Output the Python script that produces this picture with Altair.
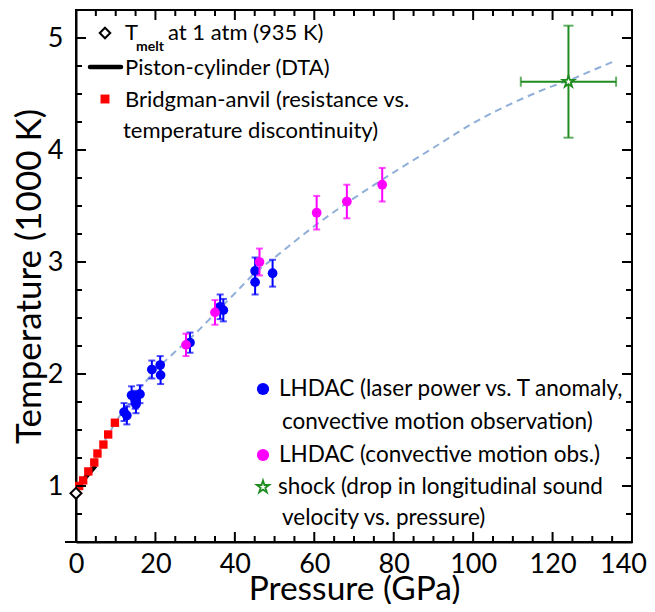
import altair as alt
import pandas as pd

W, H = 556, 532
FONT = "Lato"

# ---------------- data ----------------
melt_P = [0.0]
melt_T = [0.935]

piston_P = [0.3, 4.9]
piston_T = [0.99, 1.18]

bridg_P = [0.8, 1.8, 3.1, 4.6, 5.4, 6.9, 8.1, 9.8]
bridg_T = [1.00, 1.05, 1.13, 1.21, 1.29, 1.37, 1.46, 1.565]

blue_P = [12.1, 12.8, 14.0, 14.9, 15.1, 16.1, 19.1, 21.2, 21.3, 28.7, 36.3, 37.1, 45.1, 45.1, 49.5]
blue_T = [1.66, 1.63, 1.81, 1.77, 1.73, 1.82, 2.04, 2.08, 1.99, 2.28, 2.60, 2.57, 2.92, 2.82, 2.90]
blue_err = [0.08, 0.08, 0.08, 0.08, 0.08, 0.08, 0.08, 0.08, 0.08, 0.09, 0.11, 0.10, 0.12, 0.11, 0.12]

mag_P = [27.7, 35.0, 46.2, 60.6, 68.2, 77.1]
mag_T = [2.26, 2.55, 3.00, 3.44, 3.54, 3.69]
mag_err = [0.10, 0.11, 0.12, 0.15, 0.15, 0.15]

shock_P = [124.0]
shock_T = [4.61]
shock_Perr = [12.0]
shock_Terr = [0.50]

fit_P = [0, 2, 4, 6, 8, 10, 15, 20, 25, 30, 35, 40, 45, 50, 60, 70, 80, 90, 100, 110, 120, 124, 130, 136]
fit_T = [0.935, 1.06, 1.18, 1.32, 1.45, 1.57, 1.82, 2.03, 2.20, 2.36, 2.54, 2.72, 2.90, 3.04,
         3.32, 3.57, 3.80, 4.02, 4.24, 4.42, 4.57, 4.62, 4.71, 4.80]

x_major = [0, 20, 40, 60, 80, 100, 120, 140]
x_minor = [v for v in range(5, 140, 5) if v % 20 != 0]
y_major = [1, 2, 3, 4, 5]
y_minor = [0.75, 1.25, 1.5, 1.75, 2.25, 2.5, 2.75, 3.25, 3.5, 3.75, 4.25, 4.5, 4.75]

# ---------------- scales / axes ----------------
xscale = alt.Scale(domain=[0, 140], nice=False, zero=False)
yscale = alt.Scale(domain=[0.5, 5.25], nice=False, zero=False)
xaxis = alt.Axis(title="Pressure (GPa)", values=x_major, format="d", ticks=False, grid=False,
                 domainColor="black", domainWidth=2, labelFont=FONT, labelFontSize=27,
                 labelColor="black", labelPadding=9, labelFlush=False, labelOverlap=False,
                 labelOffset={"condition": {"test": "datum.value == 140", "value": -9}, "value": 0},
                 titleFont=FONT, titleFontSize=33.5, titleY=57, titleBaseline="alphabetic",
                 titleFontWeight="normal", titleColor="black")
yaxis = alt.Axis(title="Temperature (1000 K)", values=y_major, format="d", ticks=False, grid=False,
                 domainColor="black", domainWidth=2, labelFont=FONT, labelFontSize=27,
                 labelColor="black", labelPadding=13, labelFlush=False, labelOverlap=False,
                 titleFont=FONT, titleFontSize=35,
                 titleFontWeight="normal", titleColor="black", titlePadding=0)


def X(f="P"):
    return alt.X(f"{f}:Q", scale=xscale, axis=xaxis)


def Y(f="T"):
    return alt.Y(f"{f}:Q", scale=yscale, axis=yaxis)


fit_df = pd.DataFrame({"P": fit_P, "T": fit_T})
piston_df = pd.DataFrame({"P": piston_P, "T": piston_T})
bridg_df = pd.DataFrame({"P": bridg_P, "T": bridg_T})
blue_df = pd.DataFrame({"P": blue_P, "T": blue_T, "err": blue_err})
blue_df["lo"] = blue_df["T"] - blue_df["err"]
blue_df["hi"] = blue_df["T"] + blue_df["err"]
mag_df = pd.DataFrame({"P": mag_P, "T": mag_T, "err": mag_err})
mag_df["lo"] = mag_df["T"] - mag_df["err"]
mag_df["hi"] = mag_df["T"] + mag_df["err"]
shock_df = pd.DataFrame({"P": shock_P, "T": shock_T, "pe": shock_Perr, "te": shock_Terr})
shock_df["plo"] = shock_df["P"] - shock_df["pe"]
shock_df["phi"] = shock_df["P"] + shock_df["pe"]
shock_df["tlo"] = shock_df["T"] - shock_df["te"]
shock_df["thi"] = shock_df["T"] + shock_df["te"]
melt_df = pd.DataFrame({"P": melt_P, "T": melt_T})

STAR = "M0,-1L0.2245,-0.309L0.951,-0.309L0.363,0.118L0.588,0.809L0,0.382L-0.588,0.809L-0.363,0.118L-0.951,-0.309L-0.2245,-0.309Z"

BLUE = "#0000ff"
MAG = "#ff00ff"
RED = "#ff0000"
GREEN = "#1f8c1f"

fit = alt.Chart(fit_df).mark_line(color="#8fafd9", strokeWidth=2, strokeDash=[7, 5],
                                  interpolate="monotone").encode(x=X(), y=Y())
piston = alt.Chart(piston_df).mark_line(color="black", strokeWidth=4.5, strokeCap="butt").encode(x=X(), y=Y())
bridg = alt.Chart(bridg_df).mark_square(color=RED, size=70, opacity=1).encode(x=X(), y=Y())


def errlayers(df, color):
    bar = alt.Chart(df).mark_rule(color=color, strokeWidth=2).encode(x=X(), y=Y("lo"), y2="hi:Q")
    cap1 = alt.Chart(df).mark_tick(color=color, orient="horizontal", size=7, thickness=2).encode(x=X(), y=Y("lo"))
    cap2 = alt.Chart(df).mark_tick(color=color, orient="horizontal", size=7, thickness=2).encode(x=X(), y=Y("hi"))
    pts = alt.Chart(df).mark_circle(color=color, size=95, opacity=1).encode(x=X(), y=Y())
    return [bar, cap1, cap2, pts]


blue_layers = errlayers(blue_df, BLUE)
mag_layers = errlayers(mag_df, MAG)

sh_v = alt.Chart(shock_df).mark_rule(color=GREEN, strokeWidth=2).encode(x=X(), y=Y("tlo"), y2="thi:Q")
sh_h = alt.Chart(shock_df).mark_rule(color=GREEN, strokeWidth=2).encode(x=X("plo"), x2="phi:Q", y=Y())
sh_c1 = alt.Chart(shock_df).mark_tick(color=GREEN, orient="horizontal", size=10, thickness=2).encode(x=X(), y=Y("tlo"))
sh_c2 = alt.Chart(shock_df).mark_tick(color=GREEN, orient="horizontal", size=10, thickness=2).encode(x=X(), y=Y("thi"))
sh_c3 = alt.Chart(shock_df).mark_tick(color=GREEN, orient="vertical", size=10, thickness=2).encode(x=X("plo"), y=Y())
sh_c4 = alt.Chart(shock_df).mark_tick(color=GREEN, orient="vertical", size=10, thickness=2).encode(x=X("phi"), y=Y())
sh_pt = alt.Chart(shock_df).mark_point(shape=STAR, size=150, filled=True, fill="white", stroke=GREEN,
                                       strokeWidth=1.8, opacity=1).encode(x=X(), y=Y())

melt = alt.Chart(melt_df).mark_point(shape="diamond", size=120, filled=True, fill="white", stroke="black",
                                     strokeWidth=2, opacity=1).encode(x=X(), y=Y())


# ---------------- inward ticks on all four sides ----------------
def xticks(vals, ln):
    d = pd.DataFrame({"P": vals})
    b = alt.Chart(d).mark_rule(color="black", strokeWidth=2).encode(x=X(), y=alt.value(H), y2=alt.value(H - ln))
    t = alt.Chart(d).mark_rule(color="black", strokeWidth=2).encode(x=X(), y=alt.value(0), y2=alt.value(ln))
    return [b, t]


def yticks(vals, ln):
    d = pd.DataFrame({"T": vals})
    l = alt.Chart(d).mark_rule(color="black", strokeWidth=2).encode(y=Y(), x=alt.value(0), x2=alt.value(ln))
    r = alt.Chart(d).mark_rule(color="black", strokeWidth=2).encode(y=Y(), x=alt.value(W), x2=alt.value(W - ln))
    return [l, r]


tick_layers = xticks(x_major, 10) + xticks(x_minor, 6) + yticks(y_major, 10) + yticks(y_minor, 6)

one = pd.DataFrame({"a": [0]})
ext = alt.Chart(one).mark_rule(color="black", strokeWidth=2).encode(x=alt.value(-11), x2=alt.value(0), y=alt.value(H))


# ---------------- legends ----------------
LS1 = 22
LS2 = 22.5


def txt(s, x, y, size, weight="normal"):
    return alt.Chart(one).mark_text(text=s, align="left", baseline="middle", font=FONT, fontSize=size,
                                    fontWeight=weight, color="black").encode(x=alt.value(x), y=alt.value(y))


leg = [
    alt.Chart(one).mark_point(shape="diamond", size=110, filled=True, fill="white", stroke="black",
                              strokeWidth=2, opacity=1).encode(x=alt.value(29), y=alt.value(23)),
    txt("T", 49, 23, LS1),
    txt("melt", 60, 37, 14, weight="bold"),
    txt("at 1 atm (935 K)", 92, 23, LS1),
    alt.Chart(one).mark_rule(color="black", strokeWidth=4.5, strokeCap="round").encode(
        x=alt.value(14), x2=alt.value(45), y=alt.value(57)),
    txt("Piston-cylinder (DTA)", 49, 58, LS1),
    alt.Chart(one).mark_square(color=RED, size=80, opacity=1).encode(x=alt.value(29), y=alt.value(89)),
    txt("Bridgman-anvil (resistance vs.", 49, 90, LS1),
    txt("temperature discontinuity)", 47, 121, LS1),
    alt.Chart(one).mark_circle(color=BLUE, size=150, opacity=1).encode(x=alt.value(187), y=alt.value(379)),
    txt("LHDAC (laser power vs. T anomaly,", 203, 379, LS2),
    txt("convective motion observation)", 206, 412, LS2),
    alt.Chart(one).mark_circle(color=MAG, size=150, opacity=1).encode(x=alt.value(187), y=alt.value(445)),
    txt("LHDAC (convective motion obs.)", 203, 445, LS2),
    alt.Chart(one).mark_point(shape=STAR, size=170, filled=True, fill="white", stroke=GREEN,
                              strokeWidth=1.8, opacity=1).encode(x=alt.value(187), y=alt.value(477)),
    txt("shock (drop in longitudinal sound", 202, 477, LS2),
    txt("velocity vs. pressure)", 206, 508, LS2),
]

layers = ([fit, piston, bridg] + blue_layers + mag_layers +
          [sh_v, sh_h, sh_c1, sh_c2, sh_c3, sh_c4, sh_pt, melt] + tick_layers + [ext] + leg)

chart = alt.layer(*layers).properties(
    width=W, height=H,
    autosize=alt.AutoSizeParams(type="none"),
    padding={"left": 68, "top": 2, "right": 15, "bottom": 62},
).configure_view(stroke="black", strokeWidth=2)

chart.save("out.html", embed_options={"renderer": "svg", "actions": False})
